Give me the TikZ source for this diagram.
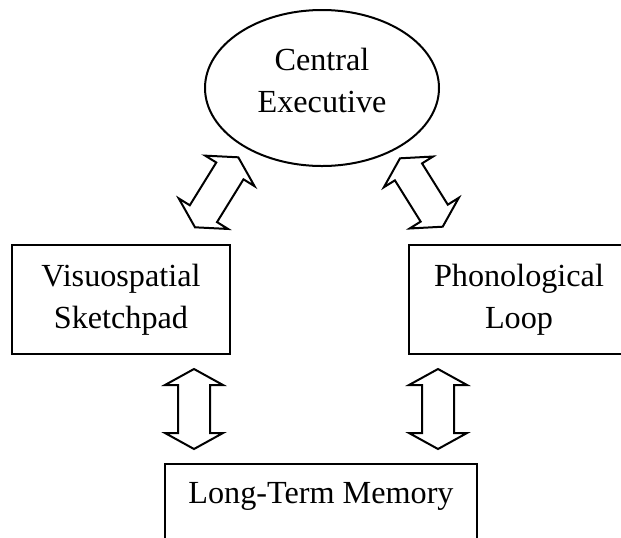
\documentclass[tikz,border=0pt]{standalone}
\usepackage{fontspec}
\setmainfont{Liberation Serif}
\usetikzlibrary{calc,shapes.geometric}

\newcommand{\headlen}{8pt}
\newcommand{\headwd}{14.5pt}
\newcommand{\shaftwd}{8pt}
% hollow double arrow from tip #1 to tip #2
\newcommand{\blockarrow}[2]{%
  \coordinate (h1) at ($(#1)!\headlen!(#2)$);
  \coordinate (h2) at ($(#2)!\headlen!(#1)$);
  \draw[fatarrow] (#1) -- ($(h1)!\headwd!90:(#2)$) -- ($(h1)!\shaftwd!90:(#2)$)
    -- ($(h2)!\shaftwd!-90:(#1)$) -- ($(h2)!\headwd!-90:(#1)$) -- (#2)
    -- ($(h2)!\headwd!90:(#1)$) -- ($(h2)!\shaftwd!90:(#1)$)
    -- ($(h1)!\shaftwd!-90:(#2)$) -- ($(h1)!\headwd!-90:(#2)$) -- cycle;}

\begin{document}
\begin{tikzpicture}[x=0.5pt, y=-0.5pt, line width=1pt,
    font=\fontsize{16.1pt}{21.25pt}\selectfont]
  \tikzstyle{box} = [draw, rectangle, inner sep=0pt, align=center]
  \tikzstyle{oval} = [draw, ellipse, inner sep=0pt, align=center]
  \tikzstyle{fatarrow} = [draw, line width=1pt, line join=miter]
  \useasboundingbox (0,0) rectangle (621,537);

  % boxes
  \node[oval, minimum width=117pt, minimum height=78pt, text depth=7.5pt] (ce) at (322,88) {Central\\Executive};
  \node[box, minimum width=109pt, minimum height=54.5pt] (vs) at (121,299.5) {Visuospatial\\Sketchpad};
  \node[box, minimum width=110pt, minimum height=54.5pt] (pl) at (519,299.5) {Phonological\\Loop};
  \node[box, anchor=north, minimum width=156pt, inner ysep=9.3pt, text depth=30pt] (ltm) at (321,463) {Long-Term Memory};

  % arrow ends
  \coordinate (vsUp) at (195,227.3);
  \coordinate (ceLeft) at (238.3,157.3);
  \coordinate (plUp) at (442.7,226.7);
  \coordinate (ceRight) at (400,158.3);
  \coordinate (vsDown) at (194,369);
  \coordinate (ltmLeft) at (194,449);
  \coordinate (plDown) at (438,369);
  \coordinate (ltmRight) at (438,449);

  \blockarrow{vsUp}{ceLeft}
  \blockarrow{plUp}{ceRight}
  \blockarrow{vsDown}{ltmLeft}
  \blockarrow{plDown}{ltmRight}
\end{tikzpicture}
\end{document}
